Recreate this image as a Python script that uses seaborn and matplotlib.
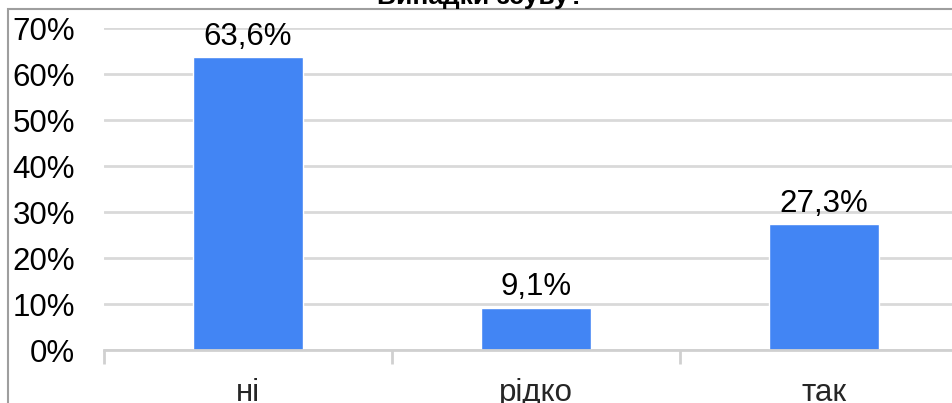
import matplotlib
matplotlib.use("Agg")
import matplotlib.pyplot as plt
import seaborn as sns
import pandas as pd
from matplotlib.patches import Rectangle

# Дані з діаграми
categories = ["ні", "рідко", "так"]
shares = [63.6, 9.1, 27.3]
y_ticks = [0, 10, 20, 30, 40, 50, 60, 70]
title_text = "Випадки зсуву?"

df = pd.DataFrame({"answer": categories, "share": shares})

sns.set_theme(style="white")
plt.rcParams["font.family"] = ["Liberation Sans", "DejaVu Sans"]

W, H = 952, 403
fig = plt.figure(figsize=(W / 100, H / 100), dpi=100)

# область графіка в пікселях -> частки фігури
left, right, bottom, top = 104, 968, 350, 28
ax = fig.add_axes([left / W, 1 - bottom / H, (right - left) / W, (bottom - top) / H])

sns.barplot(data=df, x="answer", y="share", color="#4285F4", width=0.385,
            saturation=1, ax=ax, zorder=3)

ax.set_ylim(0, 70)
ax.set_xlim(-0.5, 2.5)
ax.set_yticks(y_ticks)
ax.set_yticklabels([f"{t}%" for t in y_ticks])
ax.yaxis.grid(True, color="#d9d9d9", linewidth=2, zorder=0)
ax.set_xlabel("")
ax.set_ylabel("")

for s in ["top", "right", "left"]:
    ax.spines[s].set_visible(False)
ax.spines["bottom"].set_color("#d0d0d0")
ax.spines["bottom"].set_linewidth(2)
ax.spines["bottom"].set_zorder(4)

# мітки на межах категорій
ax.set_xticks([-0.5, 0.5, 1.5, 2.5], minor=True)
ax.tick_params(axis="x", which="minor", length=10, width=2, color="#d0d0d0",
               direction="out", bottom=True)
ax.tick_params(axis="x", which="major", length=0, labelsize=22.5, pad=20)
ax.tick_params(axis="y", length=0, labelsize=22.5, pad=21, colors="black")

for i, v in enumerate(shares):
    ax.text(i, v + 2.8, f"{v:.1f}%".replace(".", ","), ha="center", va="baseline",
            fontsize=22.5, color="black")

# рамка діаграми
fig.patches.append(Rectangle((8 / W, -0.1), 2, 1 - 9 / H + 0.1,
                             transform=fig.transFigure, fill=False,
                             edgecolor="#9e9e9e", linewidth=1.5))
fig.text(481 / W, 1 - 4 / H, title_text, ha="center", va="baseline",
         fontsize=19, fontweight="bold", color="black")

fig.savefig("out.png", dpi=100)
